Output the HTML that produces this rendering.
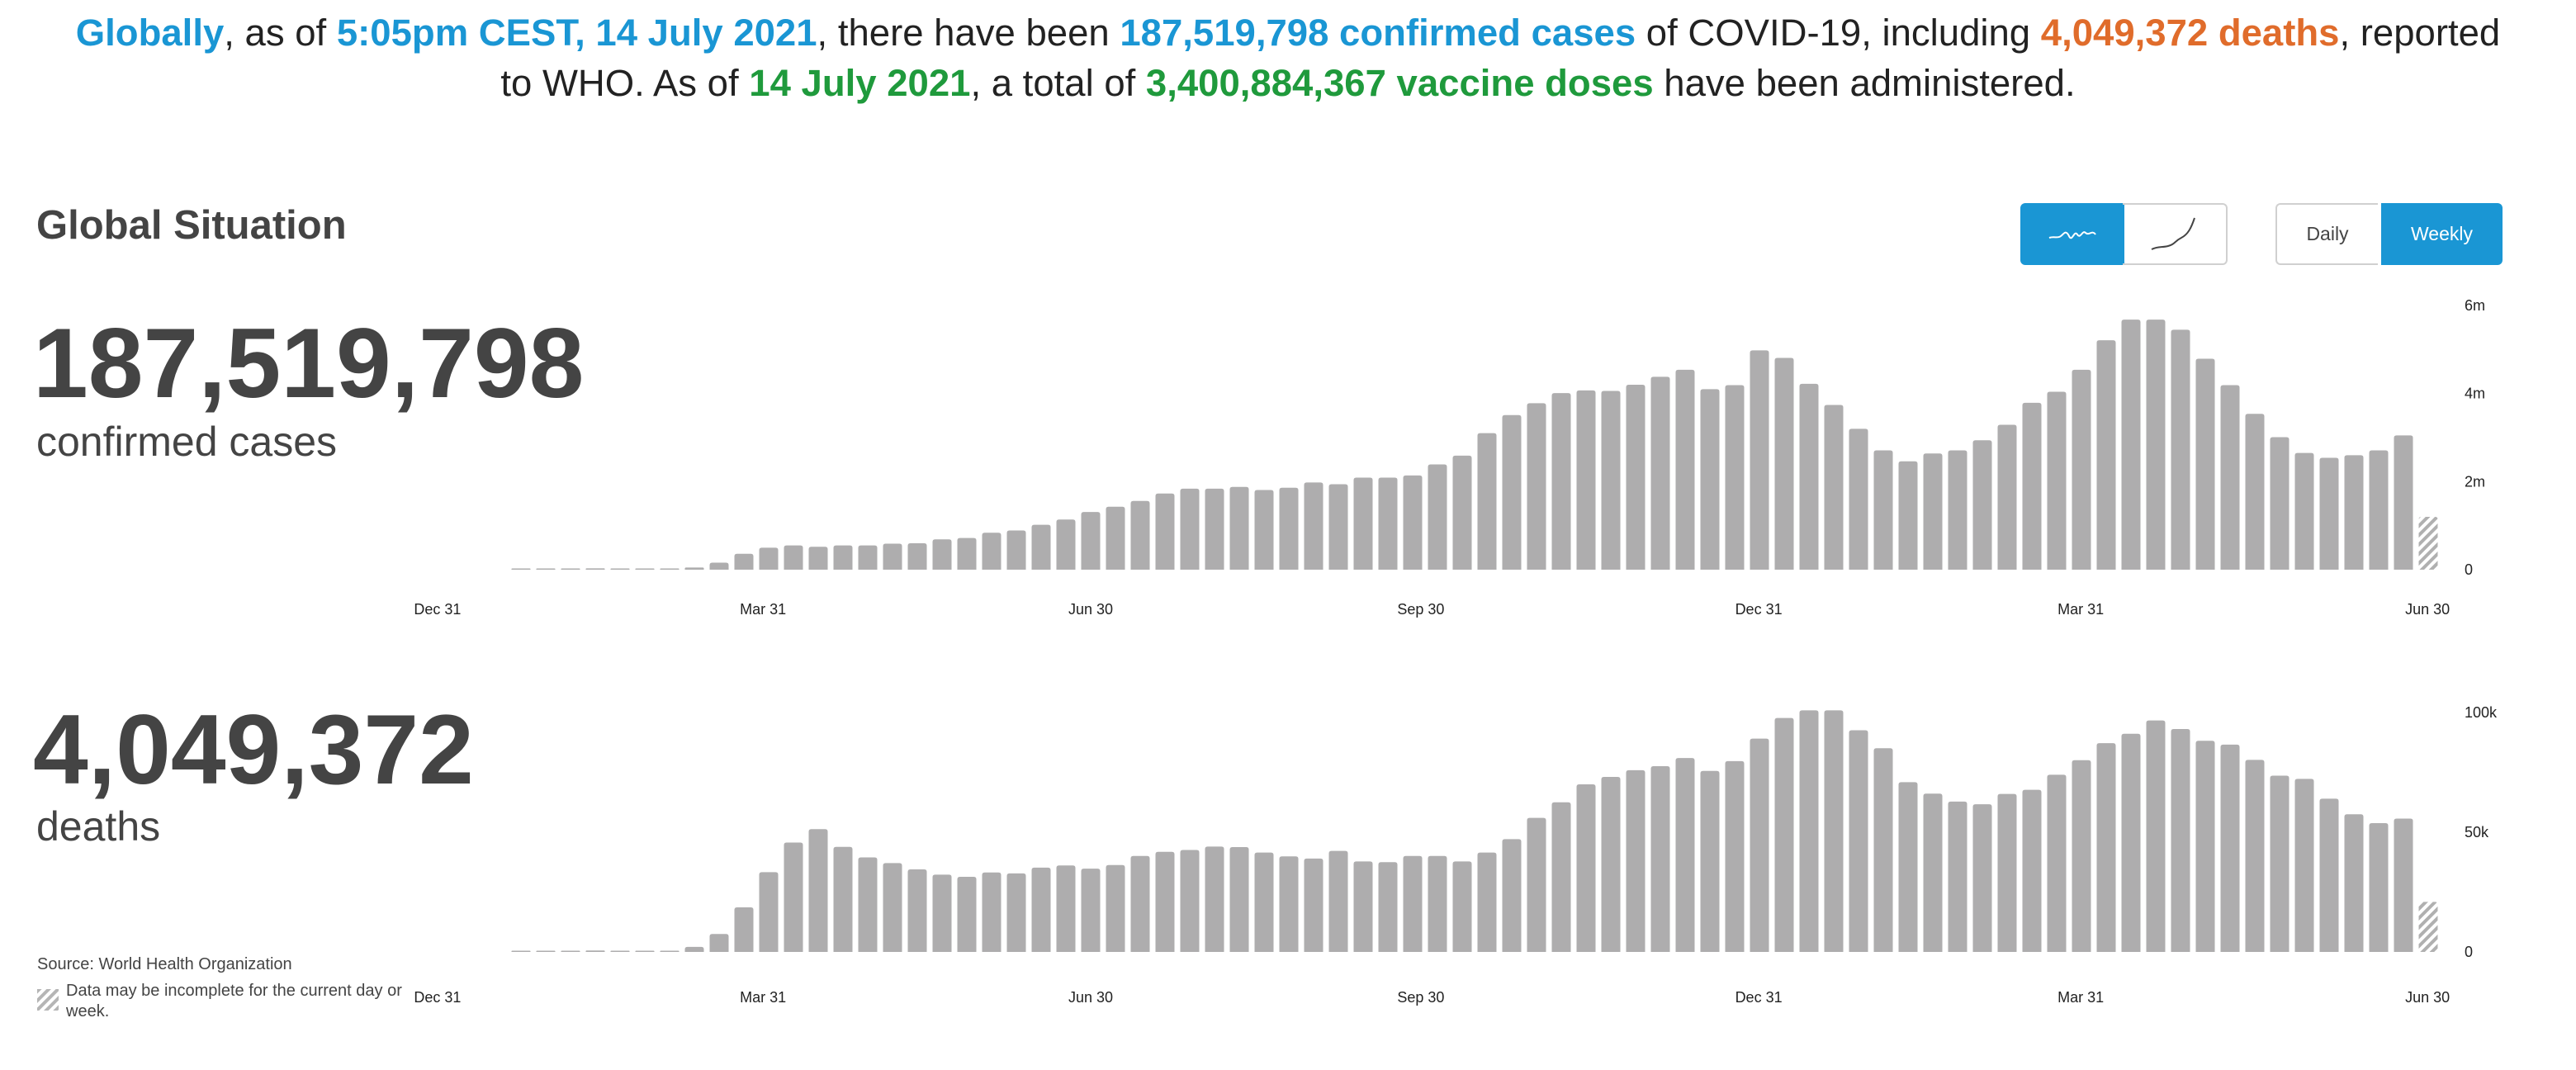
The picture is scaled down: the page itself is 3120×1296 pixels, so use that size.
<!DOCTYPE html>
<html><head><meta charset="utf-8"><style>
html,body{margin:0;padding:0;background:#fff;}
body{width:3120px;height:1296px;position:relative;overflow:hidden;font-family:"Liberation Sans",Arial,sans-serif;color:#444;}
.hdr{position:absolute;left:0;width:3120px;text-align:center;font-size:45.5px;color:#222;line-height:60px;}
.b{color:#1a96d4;font-weight:bold}.o{color:#e06c2b;font-weight:bold}.g{color:#1f9a3c;font-weight:bold}
.abs{position:absolute;white-space:nowrap}
.btn{position:absolute;box-sizing:border-box;font-size:23px;display:flex;align-items:center;justify-content:center;}
</style></head><body>
<div class="hdr" style="top:10px"><span class="b">Globally</span>, as of <span class="b">5:05pm CEST, 14 July 2021</span>, there have been <span class="b">187,519,798 confirmed cases</span> of COVID-19, including <span class="o">4,049,372 deaths</span>, reported</div>
<div class="hdr" style="top:71px">to WHO. As of <span class="g">14 July 2021</span>, a total of <span class="g">3,400,884,367 vaccine doses</span> have been administered.</div>

<div class="abs" style="left:44px;top:245px;font-size:49px;font-weight:bold;color:#444">Global Situation</div>
<div class="abs" style="left:40px;top:375px;font-size:120px;font-weight:bold;color:#444;line-height:130px">187,519,798</div>
<div class="abs" style="left:44px;top:506px;font-size:50px;color:#444">confirmed cases</div>
<div class="abs" style="left:40px;top:843px;font-size:120px;font-weight:bold;color:#444;line-height:130px">4,049,372</div>
<div class="abs" style="left:44px;top:972px;font-size:50px;color:#444">deaths</div>
<div class="abs" style="left:45px;top:1157px;font-size:20px;color:#444">Source: World Health Organization</div>
<svg class="abs" style="left:45px;top:1198px" width="28" height="28"><defs><pattern id="hp" width="8" height="8" patternUnits="userSpaceOnUse" patternTransform="rotate(45)"><rect width="4" height="8" fill="#b5b5b5"/></pattern></defs><rect width="26" height="26" fill="url(#hp)"/></svg>
<div class="abs" style="left:80px;top:1188px;font-size:20px;color:#444;line-height:25px">Data may be incomplete for the current day or<br>week.</div>

<div class="btn" style="left:2447px;top:246px;width:126px;height:75px;background:#1a96d4;border-radius:6px 0 0 6px"><svg width="60" height="24"><path d="M2 16 C8 14,12 17,16 14 S22 6,26 14 S32 6,36 12 S42 6,46 10 S54 6,58 12" stroke="#fff" stroke-width="2" fill="none"/></svg></div>
<div class="btn" style="left:2571px;top:246px;width:127px;height:75px;border:2px solid #d0d0d0;border-left:none;border-radius:0 6px 6px 0"><svg width="60" height="44"><path d="M2 40 C10 36,14 38,22 36 S30 30,38 26 S50 14,54 2" stroke="#444" stroke-width="2" fill="none"/></svg></div>
<div class="btn" style="left:2756px;top:246px;width:124px;height:75px;border:2px solid #d0d0d0;border-right:none;border-radius:6px 0 0 6px;color:#444">Daily</div>
<div class="btn" style="left:2884px;top:246px;width:147px;height:75px;background:#1a96d4;border-radius:0 6px 6px 0;color:#fff">Weekly</div>

<svg id="chart" class="abs" style="left:0;top:0" width="3120" height="1296"></svg>
<script>
const cases = [0.01,0.02,0.02,0.03,0.02,0.02,0.02,0.05,0.16,0.36,0.5,0.55,0.52,0.55,0.55,0.59,0.6,0.69,0.72,0.84,0.89,1.02,1.14,1.31,1.43,1.56,1.73,1.84,1.84,1.88,1.81,1.86,1.98,1.94,2.09,2.09,2.14,2.39,2.59,3.1,3.51,3.78,4.01,4.07,4.06,4.2,4.38,4.54,4.1,4.19,4.98,4.81,4.22,3.74,3.2,2.71,2.46,2.64,2.71,2.94,3.29,3.79,4.04,4.54,5.21,5.68,5.68,5.45,4.79,4.19,3.54,3.01,2.65,2.54,2.6,2.71,3.05,1.2];
const deaths = [0,0.1,0.2,0.6,0.3,0.3,0.3,2.1,7.5,18.6,33.3,45.7,51.3,43.9,39.5,37.1,34.5,32.3,31.4,33.2,32.8,35.2,36.1,34.8,36.3,40.1,41.8,42.6,44,43.8,41.5,39.9,39,42.2,37.8,37.5,40.1,40.1,37.8,41.5,47.1,56,62.5,70,73.1,75.9,77.6,81,75.6,79.7,89.1,97.7,100.9,100.9,92.6,85.1,70.9,66.1,62.8,61.7,66,67.7,74,80.1,87.2,91.1,96.7,93.1,88.2,86.6,80.2,73.6,72.3,64,57.5,53.8,55.7,20.9];
const tickLabels = ["Dec 31","Mar 31","Jun 30","Sep 30","Dec 31","Mar 31","Jun 30"];
const tickWeeks = [-3.37,9.77,23.0,36.33,49.97,62.97,76.97];
const caseTicks = [0,2,4,6];
const caseTickLabels = ["0","2m","4m","6m"];
const deathTicks = [0,50,100];
const deathTickLabels = ["0","50k","100k"];
const NS="http://www.w3.org/2000/svg";
const svg=document.getElementById('chart');
function xw(i){return 631+i*30;}
function mk(tag,attrs){const e=document.createElementNS(NS,tag);for(const k in attrs)e.setAttribute(k,attrs[k]);svg.appendChild(e);return e;}
function draw(vals,base,pxPer,ticks,tlab,labY,name){
  vals.forEach((v,i)=>{
    const h=Math.max(v*pxPer,1.5),x=xw(i)-11.5,y=base-h,last=i===vals.length-1;
    const r=Math.min(3,h/2);
    const p=mk('path',{d:`M${x} ${base}V${y+r}Q${x} ${y} ${x+r} ${y}H${x+23-r}Q${x+23} ${y} ${x+23} ${y+r}V${base}Z`,fill:last?'url(#hp2)':'#aeadae'});
    
    
  });
  ticks.forEach((t,i)=>{
    const tx=mk('text',{x:2985,y:base-t*pxPer+6,'font-size':18,fill:'#222','font-family':'Liberation Sans, sans-serif'});
    tx.textContent=tlab[i];
    
    
  });
  tickWeeks.forEach((w,i)=>{
    const tx=mk('text',{x:xw(w),y:labY,'font-size':18,fill:'#222','text-anchor':'middle','font-family':'Liberation Sans, sans-serif'});
    tx.textContent=tickLabels[i];
    
    
  });
}
const defs=mk('defs',{});
defs.innerHTML='<pattern id="hp2" width="8" height="8" patternUnits="userSpaceOnUse" patternTransform="rotate(45)"><rect width="4" height="8" fill="#b0b0b0"/></pattern>';
draw(cases,690,320/6,caseTicks,caseTickLabels,744,'cases');
draw(deaths,1153,2.9,deathTicks,deathTickLabels,1214,'deaths');
</script>
</body></html>
